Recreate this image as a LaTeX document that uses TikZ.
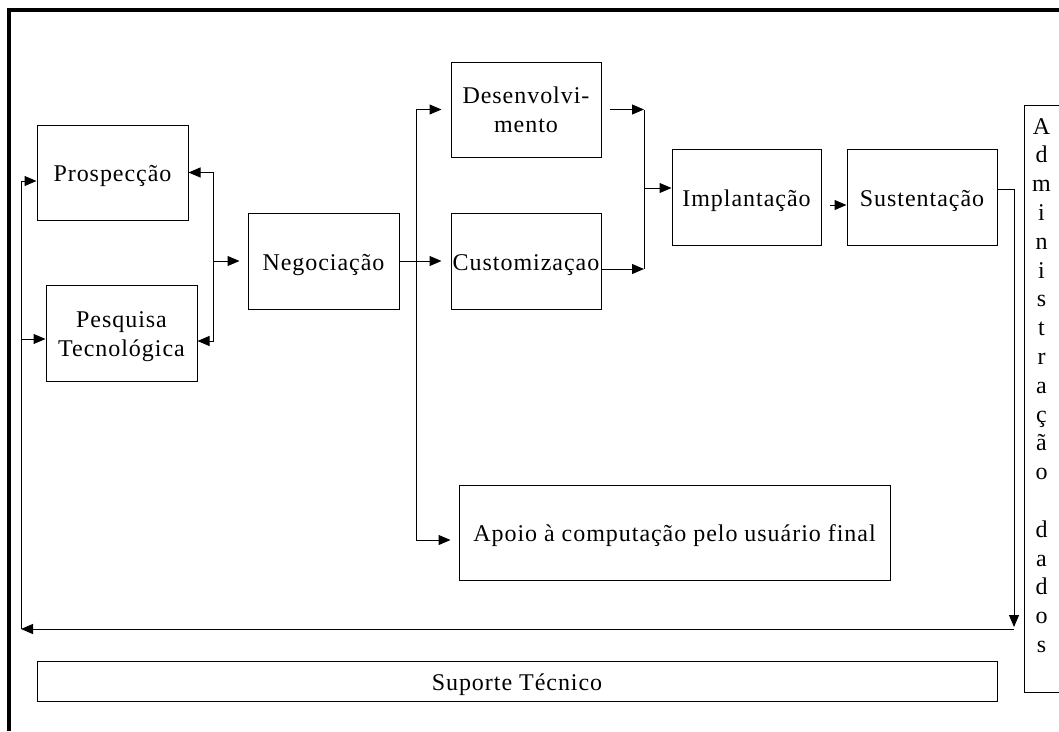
\documentclass[tikz,border=0pt]{standalone}
\usepackage{fontspec}
\setmainfont{Liberation Serif}[LetterSpace=4]
\usetikzlibrary{arrows.meta}
\begin{document}
\begin{tikzpicture}[x=1pt,y=-1pt,
  every node/.style={font=\fontsize{24}{29}\selectfont, inner sep=0pt},
  blk/.style={draw, line width=1pt, rectangle, inner sep=0pt},
  oneline/.style={text height=20pt, text depth=2pt},
  arr/.style={line width=1pt, -{Triangle[length=12pt,width=10pt]}},
  wire/.style={line width=1pt}]
\useasboundingbox (0,0) rectangle (1059,731);
% heavy frame, top and left
\draw[line width=3.5pt] (9,731) -- (9,10) -- (1059,10);

% process boxes
\node[blk,oneline,minimum width=151pt,minimum height=95pt] (prosp) at (112.5,172.5) {Prospecção};
\node[blk,minimum width=151pt,minimum height=96pt] (pesq) at (121.5,333) {};
\node[align=center] (pesqtxt) at (121.5,337) {Pesquisa\\Tecnológica};
\node[blk,oneline,minimum width=151pt,minimum height=96pt] (nego) at (323.5,261) {Negociação};
\node[blk,align=center,minimum width=150pt,minimum height=95pt] (desen) at (526,109.5) {Desenvolvi-\\mento};
\node[blk,oneline,minimum width=150pt,minimum height=96pt] (cust) at (526,261) {Customizaçao};
\node[blk,oneline,minimum width=149pt,minimum height=96pt] (impl) at (746.5,197) {Implantação};
\node[blk,oneline,minimum width=150pt,minimum height=96pt] (sust) at (922,197) {Sustentação};
\node[blk,oneline,minimum width=431pt,minimum height=95pt] (apoio) at (674.5,532.5) {Apoio à computação pelo usuário final};
\node[blk,oneline,minimum width=960pt,minimum height=40pt] (sup) at (517,681) {Suporte Técnico};

% vertical data-administration column
\node[blk,minimum width=40pt,minimum height=587pt] (adm) at (1044,398.5) {};
\foreach \c [count=\i] in {A,d,m,i,n,i,s,t,r,a,ç,ã,o,{},d,a,d,o,s}
  \node[anchor=base] (adm\i) at (1041.5,{134+(\i-1)*28.8}) {\c};

% left junction: prospecting / research <-> negotiation
\coordinate (jl) at (213,261);
\draw[arr] (jl) |- (prosp.east);
\draw[arr] (jl) |- ([yshift=-8pt]pesq.east);
\draw[arr,shorten >=8pt] (jl) -- (nego.west);

% negotiation fan-out
\draw[arr,shorten >=9pt] (nego) -- (cust);
\coordinate (jn) at (416,261);
\draw[arr,shorten >=9pt] (jn) |- (desen.west);
\draw[arr,shorten >=8pt] (jn) |- ([yshift=-7.5pt]apoio.west);

% merge into implantation
\coordinate (jr) at (644,188);
\coordinate (dout) at ([xshift=8pt]desen.east);
\coordinate (cout) at ([yshift=-8pt]cust.east);
\draw[arr] (dout) -- (jr |- dout);
\draw[arr] (cout) -- (jr |- cout);
\draw[wire] (jr |- dout) -- (jr |- cout);
\draw[arr] (jr) -- (jr -| impl.west);

% implantation -> sustentation
\coordinate (iout) at ([xshift=8pt,yshift=-8pt]impl.east);
\draw[arr] (iout) -- (iout -| sust.west);

% feedback loop back to the start
\coordinate (sout) at ([yshift=8pt]sust.east);
\coordinate (fbD) at (1014,627);
\draw[arr] (sout) -| (fbD);
\coordinate (fbR) at (1014,629);
\coordinate (fbL) at (21,629);
\draw[arr] (fbR) -- (fbL);
\coordinate (pin) at ([yshift=-8.5pt]prosp.west);
\draw[arr] (fbL) |- (pin);
\coordinate (qin) at ([yshift=-6pt]pesq.west);
\draw[arr] (fbL |- qin) -- (qin);
\end{tikzpicture}
\end{document}
